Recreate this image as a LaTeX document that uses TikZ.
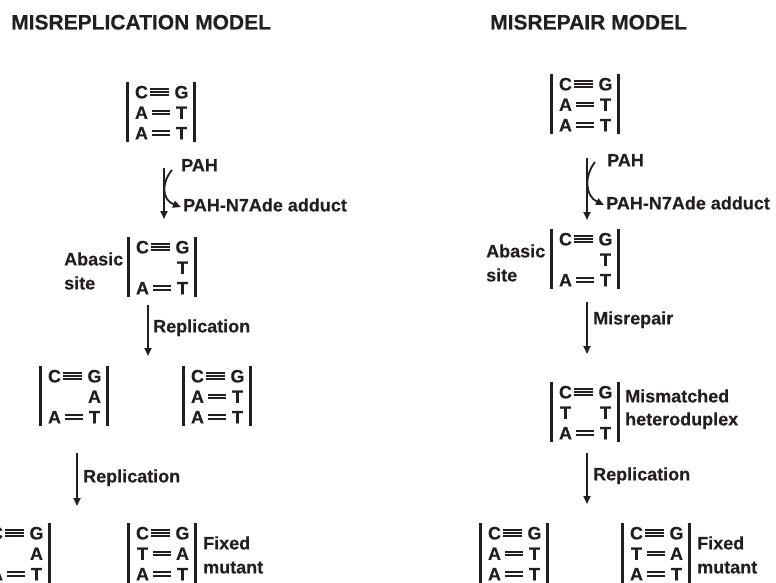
\documentclass[tikz,border=0pt]{standalone}
\usepackage{fontspec}
\setmainfont{Liberation Sans}[BoldFeatures={FakeBold=0.35}]
\usetikzlibrary{arrows.meta,calc}
\definecolor{ink}{HTML}{231F20}
\tikzset{
  lbl/.style={font=\fontsize{18}{21}\selectfont\bfseries, text=ink, inner sep=0pt, anchor=base west},
  ttl/.style={font=\fontsize{21}{25}\selectfont\bfseries, text=ink, inner sep=0pt, anchor=base west},
  nuc/.style={font=\fontsize{18}{21}\selectfont\bfseries, text=ink, inner sep=0pt, anchor=base},
  strand/.style={draw=ink, line width=3pt},
  bondline/.style={draw=ink, line width=1.5pt},
  flow/.style={draw=ink, line width=1.8pt, -{Triangle[length=8pt,width=7pt]}},
  boxnode/.style={minimum width=67pt, minimum height=60pt, inner sep=0pt, outer sep=0pt, anchor=north west},
}
\newcommand\dnabox[3]{%
  \node[boxnode] (#1) at (#2,#3) {};
  \draw[strand] (#1.north west) -- (#1.south west);
  \draw[strand] (#1.north east) -- (#1.south east);}
\newcommand\dnarow[5]{%
  \pgfmathsetmacro\yo{10+(#2-1)*20.5}%
  \node[nuc] (#1-#2l) at ($(#1.north west)+(14.5,\yo+6.4)$) {#3};
  \node[nuc] (#1-#2r) at ($(#1.north west)+(54.5,\yo+6.4)$) {#5};
  \ifnum#4=2
    \draw[bondline,line width=2pt] ($(#1.north west)+(25,\yo-1.7)$) -- ++(18,0);
    \draw[bondline,line width=2pt] ($(#1.north west)+(25,\yo+1.7)$) -- ++(18,0);
  \fi
  \ifnum#4=3
    \draw[bondline,line width=1.6pt] ($(#1.north west)+(23,\yo-2.9)$) -- ++(19,0);
    \draw[bondline,line width=1.6pt] ($(#1.north west)+(23,\yo)$) -- ++(19,0);
    \draw[bondline,line width=1.6pt] ($(#1.north west)+(23,\yo+2.9)$) -- ++(19,0);
  \fi}
\begin{document}
\begin{tikzpicture}[x=1pt,y=-1pt]
\path[use as bounding box, clip] (0,0) rectangle (776,583);
% titles
\node[ttl] (t1) at (11,29.5) {MISREPLICATION MODEL};
\node[ttl] (t2) at (490,29.5) {MISREPAIR MODEL};

% ===== left column =====
\dnabox{L1}{127}{82}
\dnarow{L1}{1}{C}{3}{G}
\dnarow{L1}{2}{A}{2}{T}
\dnarow{L1}{3}{A}{2}{T}

\coordinate (la1) at (164,168);
\coordinate (lb1) at (164,219);
\draw[flow] (la1) -- (lb1);
\coordinate (lc1) at (172,170);
\coordinate (ld1) at (181,207);
\draw[flow] (lc1) .. controls (161,183) and (162,200) .. (ld1);
\node[lbl] (lpah) at (181,171.4) {PAH};
\node[lbl] (ladd) at (183,211.4) {PAH-N7Ade adduct};

\dnabox{L2}{128}{237}
\dnarow{L2}{1}{C}{3}{G}
\dnarow{L2}{2}{}{0}{T}
\dnarow{L2}{3}{A}{2}{T}
\node[lbl] (lab1) at (64,265.4) {Abasic};
\node[lbl] (lab2) at (64,289.4) {site};

\coordinate (la2) at (148,305);
\coordinate (lb2) at (148,356);
\draw[flow] (la2) -- (lb2);
\node[lbl] (lrep1) at (153,332.4) {Replication};

\dnabox{L3a}{40}{366}
\dnarow{L3a}{1}{C}{3}{G}
\dnarow{L3a}{2}{}{0}{A}
\dnarow{L3a}{3}{A}{2}{T}
\dnabox{L3b}{183}{366}
\dnarow{L3b}{1}{C}{3}{G}
\dnarow{L3b}{2}{A}{2}{T}
\dnarow{L3b}{3}{A}{2}{T}

\coordinate (la3) at (77,453);
\coordinate (lb3) at (77,506);
\draw[flow] (la3) -- (lb3);
\node[lbl] (lrep2) at (83,482.4) {Replication};

\dnabox{L4a}{-18}{523}
\dnarow{L4a}{1}{C}{3}{G}
\dnarow{L4a}{2}{}{0}{A}
\dnarow{L4a}{3}{A}{2}{T}
\dnabox{L4b}{128}{523}
\dnarow{L4b}{1}{C}{3}{G}
\dnarow{L4b}{2}{T}{2}{A}
\dnarow{L4b}{3}{A}{2}{T}
\node[lbl] (lfx1) at (203,549.4) {Fixed};
\node[lbl] (lfx2) at (203,573.4) {mutant};

% ===== right column =====
\dnabox{R1}{551}{74}
\dnarow{R1}{1}{C}{3}{G}
\dnarow{R1}{2}{A}{2}{T}
\dnarow{R1}{3}{A}{2}{T}

\coordinate (ra1) at (587,158);
\coordinate (rb1) at (587,220);
\draw[flow] (ra1) -- (rb1);
\coordinate (rc1) at (595,162);
\coordinate (rd1) at (604,205);
\draw[flow] (rc1) .. controls (584,176) and (585,196) .. (rd1);
\node[lbl] (rpah) at (607,166.4) {PAH};
\node[lbl] (radd) at (606,209.4) {PAH-N7Ade adduct};

\dnabox{R2}{551}{229}
\dnarow{R2}{1}{C}{3}{G}
\dnarow{R2}{2}{}{0}{T}
\dnarow{R2}{3}{A}{2}{T}
\node[lbl] (rab1) at (486,257.4) {Abasic};
\node[lbl] (rab2) at (486,281.4) {site};

\coordinate (ra2) at (587,302);
\coordinate (rb2) at (587,354);
\draw[flow] (ra2) -- (rb2);
\node[lbl] (rmis) at (593,324.4) {Misrepair};

\dnabox{R3}{551}{382}
\dnarow{R3}{1}{C}{3}{G}
\dnarow{R3}{2}{T}{0}{T}
\dnarow{R3}{3}{A}{2}{T}
\node[lbl] (rmm1) at (625,402.4) {Mismatched};
\node[lbl] (rmm2) at (625,425.4) {heteroduplex};

\coordinate (ra3) at (587,453);
\coordinate (rb3) at (587,504);
\draw[flow] (ra3) -- (rb3);
\node[lbl] (rrep) at (593,480.4) {Replication};

\dnabox{R4a}{480}{523}
\dnarow{R4a}{1}{C}{3}{G}
\dnarow{R4a}{2}{A}{2}{T}
\dnarow{R4a}{3}{A}{2}{T}
\dnabox{R4b}{622}{523}
\dnarow{R4b}{1}{C}{3}{G}
\dnarow{R4b}{2}{T}{2}{A}
\dnarow{R4b}{3}{A}{2}{T}
\node[lbl] (rfx1) at (697,549.4) {Fixed};
\node[lbl] (rfx2) at (697,573.4) {mutant};
\end{tikzpicture}
\end{document}
